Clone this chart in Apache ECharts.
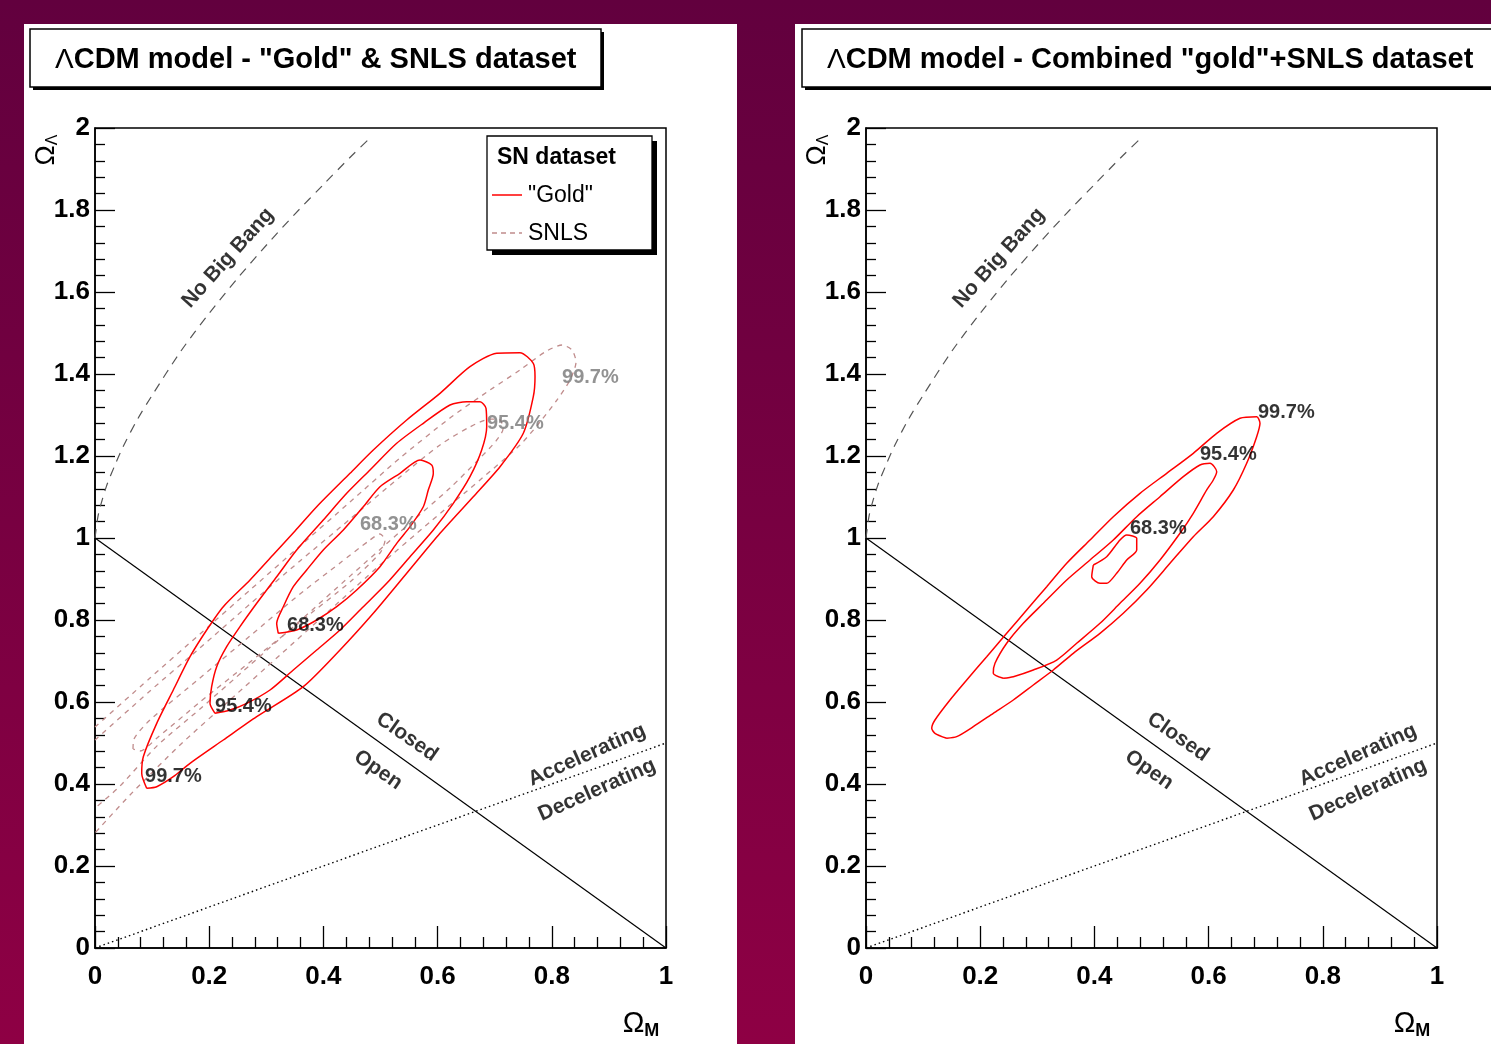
<!DOCTYPE html>
<html><head><meta charset="utf-8">
<script src="https://cdn.jsdelivr.net/npm/echarts@6/dist/echarts.min.js"></script>
<style>html,body{margin:0;padding:0;background:#6a0040;}#c{width:1491px;height:1044px;}</style>
</head><body><div id="c"></div>
<script>
// ---------- data (Omega_M, Omega_Lambda) ----------
const xTicks = [0, 0.2, 0.4, 0.6, 0.8, 1];
const yTicks = [0, 0.2, 0.4, 0.6, 0.8, 1, 1.2, 1.4, 1.6, 1.8, 2];
const legendNames = ['"Gold"', 'SNLS'];
const titles = ['CDM model - "Gold" & SNLS dataset', 'CDM model - Combined "gold"+SNLS dataset'];

const flatLine = [[0, 1], [1, 0]];
const accelLine = [[0, 0], [1, 0.5]];
const noBigBang = [[0, 1.0], [0.005, 1.051], [0.01, 1.080], [0.02, 1.126], [0.035, 1.178], [0.05, 1.225],
  [0.075, 1.291], [0.1, 1.348], [0.15, 1.455], [0.2, 1.548], [0.25, 1.634], [0.3, 1.714],
  [0.35, 1.790], [0.4, 1.862], [0.45, 1.933], [0.485, 1.980]];

const goldOuter = [[0.0905,0.3895],[0.0818,0.4261],[0.0846,0.4666],[0.1081,0.548],[0.1371,0.6293],[0.1664,0.7105],
  [0.1956,0.7756],[0.2247,0.8324],[0.2715,0.8976],[0.3117,0.9585],[0.3503,1.0171],[0.3883,1.0763],[0.4466,1.1578],
  [0.4874,1.2146],[0.5459,1.2878],[0.6042,1.3529],[0.6567,1.4178],[0.7035,1.4505],[0.7443,1.452],[0.7676,1.4261],
  [0.7706,1.3934],[0.7676,1.3446],[0.7501,1.2554],[0.7093,1.1739],[0.6625,1.1007],[0.6042,1.0115],[0.5459,0.9139],
  [0.4874,0.8163],[0.4291,0.7268],[0.3648,0.6373],[0.2832,0.5641],[0.2247,0.5073],[0.1664,0.4505],[0.1371,0.4178],
  [0.1081,0.3934],[0.0905,0.3895]];
const goldMid = [[0.2102,0.5724],[0.2014,0.5968],[0.2043,0.6373],[0.2131,0.6862],[0.2306,0.7349],[0.2539,0.7837],
  [0.2832,0.8407],[0.3182,0.9056],[0.3532,0.9707],[0.3998,1.0439],[0.4408,1.109],[0.4816,1.1659],[0.5284,1.231],
  [0.575,1.2798],[0.6217,1.3244],[0.651,1.3324],[0.6743,1.3324],[0.6848,1.3163],[0.686,1.2715],[0.6772,1.2146],
  [0.6567,1.1495],[0.6275,1.0846],[0.5925,1.0195],[0.5517,0.9544],[0.5109,0.8895],[0.4699,0.8324],[0.4291,0.7756],
  [0.3883,0.7268],[0.3473,0.678],[0.3065,0.6293],[0.2657,0.5968],[0.2364,0.5805],[0.2102,0.5724]];
const goldInner = [[0.321,0.7675],[0.3182,0.7919],[0.3298,0.8324],[0.3473,0.8812],[0.3707,0.922],[0.3998,0.9707],
  [0.4349,1.0195],[0.4699,1.0763],[0.4991,1.1251],[0.5342,1.1578],[0.5692,1.1902],[0.5896,1.178],[0.5925,1.1578],
  [0.5837,1.1171],[0.575,1.0763],[0.5517,1.0276],[0.5284,0.987],[0.4991,0.93],[0.4583,0.8732],[0.4233,0.8324],
  [0.3883,0.8],[0.3532,0.7756],[0.321,0.7675]];

const snlsOuter = [[0,0.539],[0.0963,0.6585],[0.1839,0.7659],[0.2715,0.8732],[0.359,0.9805],[0.4466,1.0878],
  [0.5342,1.1951],[0.6217,1.2927],[0.6918,1.361],[0.7443,1.4098],[0.7881,1.4537],[0.8179,1.4707],[0.8354,1.4585],
  [0.8424,1.4293],[0.8319,1.3854],[0.8091,1.3366],[0.7793,1.2829],[0.7443,1.2268],[0.6743,1.1415],[0.5867,1.039],
  [0.4991,0.9341],[0.4116,0.8244],[0.324,0.7146],[0.2364,0.6049],[0.1489,0.4951],[0.0613,0.3732],[0,0.2805]];
const snlsMid = [[0,0.507],[0.0963,0.627],[0.1839,0.732],[0.2715,0.839],[0.359,0.944],[0.4466,1.046],[0.5342,1.149],
  [0.6042,1.227],[0.6567,1.271],[0.6918,1.290],[0.7093,1.288],[0.7145,1.266],[0.7023,1.237],[0.6743,1.195],
  [0.6217,1.122],[0.5342,1.015],[0.4466,0.907],[0.359,0.798],[0.2715,0.690],[0.1839,0.583],[0.1086,0.493],
  [0.0438,0.395],[0,0.341]];
const snlsInner = [[0.0666,0.4854],[0.0683,0.5098],[0.0963,0.5561],[0.1839,0.6585],[0.2715,0.7610],[0.359,0.8634],
  [0.4291,0.9390],[0.4816,0.9951],[0.4991,1.0098],[0.5079,0.9951],[0.4991,0.9634],[0.4466,0.8927],[0.359,0.7951],
  [0.2715,0.6976],[0.1839,0.6000],[0.1086,0.5122],[0.0788,0.4805],[0.0666,0.4854]];

const combOuter = [[0.1413,0.5115],[0.1208,0.5237],[0.1151,0.5359],[0.1208,0.5561],[0.1471,0.6049],[0.1764,0.6537],
  [0.2114,0.7105],[0.2464,0.7675],[0.2814,0.8244],[0.3165,0.8812],[0.3515,0.9383],[0.3923,0.9951],[0.4331,1.052],
  [0.4799,1.109],[0.5266,1.1578],[0.5732,1.2066],[0.6142,1.2554],[0.655,1.292],[0.6842,1.2959],[0.69,1.2798],
  [0.6842,1.2471],[0.6667,1.1822],[0.6433,1.1171],[0.6082,1.052],[0.5732,1.0032],[0.5324,0.9383],[0.4916,0.8732],
  [0.4506,0.8163],[0.4098,0.7675],[0.363,0.7188],[0.328,0.678],[0.293,0.6415],[0.258,0.6049],[0.2229,0.5724],
  [0.1879,0.5398],[0.1588,0.5154],[0.1413,0.5115]];
const combMid = [[0.2405,0.6578],[0.2229,0.67],[0.2259,0.6944],[0.2464,0.7432],[0.2755,0.7919],[0.3105,0.8407],
  [0.3515,0.8976],[0.3923,0.9463],[0.4331,0.9951],[0.4741,1.052],[0.5149,1.1007],[0.5557,1.1495],[0.5849,1.178],
  [0.6025,1.1822],[0.6142,1.1617],[0.6082,1.1415],[0.5967,1.1171],[0.5732,1.0602],[0.5499,1.0115],[0.5149,0.9463],
  [0.4799,0.8895],[0.4448,0.8407],[0.4098,0.7919],[0.369,0.7432],[0.334,0.7024],[0.293,0.678],[0.258,0.6617],
  [0.2405,0.6578]];
const combInner = [[0.3981,0.9341],[0.3953,0.9056],[0.4098,0.8895],[0.4215,0.8895],[0.439,0.9139],[0.4566,0.9463],
  [0.4741,0.9707],[0.4741,0.9993],[0.4566,1.0073],[0.4448,0.9951],[0.4215,0.9544],[0.3981,0.9341]];

const goldLabels = [[0.3363,0.7878,'68.3%'],[0.2102,0.5902,'95.4%'],[0.0876,0.4195,'99.7%']];
const snlsLabels = [[0.4641,1.0341,'68.3%'],[0.6865,1.2805,'95.4%'],[0.8179,1.3927,'99.7%']];
const combLabels = [[0.4623,1.0244,'68.3%'],[0.5849,1.2049,'95.4%'],[0.6865,1.3073,'99.7%']];
const regionNotes = [[0.2329,1.6829,'No Big Bang',48],[0.5464,0.5146,'Closed',-35],[0.4956,0.4341,'Open',-35],
  [0.8616,0.4707,'Accelerating',24],[0.8792,0.3854,'Decelerating',24]];

// ---------- styles ----------
const FONT = 'Liberation Sans, Arial, Helvetica, sans-serif';
const RED = '#ff0000', SNLSC = '#c08c8c';

function axisX(i) {
  return { gridIndex: i, type: 'value', min: 0, max: 1, interval: 0.2,
    axisLine: { onZero: false, lineStyle: { color: '#000', width: 1.5 } },
    axisTick: { inside: true, length: 22, lineStyle: { color: '#000', width: 1.3 } },
    minorTick: { show: true, splitNumber: 5, length: 11, lineStyle: { color: '#000', width: 1.3 } },
    axisLabel: { margin: 16, color: '#000', fontFamily: FONT, fontWeight: 'bold', fontSize: 26,
      formatter: v => String(xTicks.find(t => Math.abs(t - v) < 1e-9) ?? v) },
    splitLine: { show: false } };
}
function axisY(i) {
  return { gridIndex: i, type: 'value', min: 0, max: 2, interval: 0.2,
    axisLine: { onZero: false, lineStyle: { color: '#000', width: 1.5 } },
    axisTick: { inside: true, length: 20, lineStyle: { color: '#000', width: 1.3 } },
    minorTick: { show: true, splitNumber: 5, length: 10, lineStyle: { color: '#000', width: 1.3 } },
    axisLabel: { margin: 5, color: '#000', fontFamily: FONT, fontWeight: 'bold', fontSize: 26,
      formatter: v => String(yTicks.find(t => Math.abs(t - v) < 1e-9) ?? v) },
    splitLine: { show: false } };
}
function line(i, data, color, type, width, z, smooth) {
  return { type: 'line', xAxisIndex: i, yAxisIndex: i, data: data, showSymbol: false, symbol: 'none',
    silent: true, animation: false, z: z || 3, smooth: smooth || false,
    lineStyle: { color: color, type: type, width: width } };
}
function labels(i, arr, color, pos) {
  return { type: 'scatter', xAxisIndex: i, yAxisIndex: i, symbolSize: 0, silent: true, animation: false, z: 6,
    data: arr.map(a => ({ value: [a[0], a[1]], name: a[2] })),
    label: { show: true, position: pos, distance: 0, formatter: p => p.name, color: color,
      fontFamily: FONT, fontWeight: 'bold', fontSize: 20 } };
}
function notes(i) {
  return { type: 'scatter', xAxisIndex: i, yAxisIndex: i, symbolSize: 0, silent: true, animation: false, z: 6,
    data: regionNotes.map(a => ({ value: [a[0], a[1]], name: a[2], label: { rotate: a[3] } })),
    label: { show: true, position: 'inside', formatter: p => p.name, color: '#000',
      fontFamily: FONT, fontWeight: 'bold', fontSize: 21 } };
}
function commonLines(i) {
  return [
    line(i, flatLine, '#000', 'solid', 1.2, 2),
    line(i, accelLine, '#000', [1.5, 3], 1.4, 2),
    line(i, noBigBang, '#555', [9, 7], 1.2, 2, 0.3),
    notes(i)
  ];
}
const SM = 0.25;
const series = [].concat(
  commonLines(0),
  [line(0, snlsOuter, SNLSC, [5, 5], 1.3, 3, SM), line(0, snlsMid, SNLSC, [5, 5], 1.3, 3, SM), line(0, snlsInner, SNLSC, [5, 5], 1.3, 3, SM),
   line(0, goldOuter, RED, 'solid', 1.5, 4, SM), line(0, goldMid, RED, 'solid', 1.5, 4, SM), line(0, goldInner, RED, 'solid', 1.5, 4, SM),
   labels(0, goldLabels, '#000', 'right'), labels(0, snlsLabels, '#777', 'right')],
  commonLines(1),
  [line(1, combOuter, RED, 'solid', 1.5, 4, SM), line(1, combMid, RED, 'solid', 1.5, 4, SM), line(1, combInner, RED, 'solid', 1.5, 4, SM),
   labels(1, combLabels, '#000', 'right')]
);

function titleBox(x, w, text) {
  return [
    { type: 'rect', shape: { x: x + 3, y: 32, width: w, height: 58 }, style: { fill: '#000' }, z: 1 },
    { type: 'rect', shape: { x: x, y: 29, width: w, height: 58 }, style: { fill: '#fff', stroke: '#000', lineWidth: 1.5 }, z: 2 },
    { type: 'text', x: x + 25, y: 60, z: 3, style: {
      rich: { l: { font: '28px ' + FONT, fill: '#000' }, t: { font: 'bold 29px ' + FONT, fill: '#000' } },
      text: '{l|Λ}{t|' + text + '}', verticalAlign: 'middle' } }
  ];
}
function omegaL(x) {
  return { type: 'text', x: x, y: 150, rotation: Math.PI / 2, z: 12,
    style: { rich: { a: { font: '27px ' + FONT, fill: '#000' }, b: { font: '16px ' + FONT, fill: '#000', padding: [12, 0, 0, 0] } },
      text: '{a|Ω}{b|Λ}', align: 'center', verticalAlign: 'middle' } };
}
function omegaM(x) {
  return { type: 'text', x: x, y: 1024, z: 12,
    style: { rich: { a: { font: '29px ' + FONT, fill: '#000' }, b: { font: 'bold 18px ' + FONT, fill: '#000', padding: [14, 0, 0, 0] } },
      text: '{a|Ω}{b|M}', align: 'center', verticalAlign: 'middle' } };
}

const graphic = [
  { type: 'rect', shape: { x: 24, y: 24, width: 713, height: 1030 }, style: { fill: '#fff' }, z: -10 },
  { type: 'rect', shape: { x: 795, y: 24, width: 700, height: 1030 }, style: { fill: '#fff' }, z: -10 }
].concat(titleBox(30, 571, titles[0]), titleBox(802, 700, titles[1]), [
  { type: 'rect', shape: { x: 492, y: 141, width: 165, height: 114 }, style: { fill: '#000' }, z: 10 },
  { type: 'rect', shape: { x: 487, y: 136, width: 165, height: 114 }, style: { fill: '#fff', stroke: '#000', lineWidth: 1.3 }, z: 11 },
  { type: 'text', x: 497, y: 158, z: 12, style: { text: 'SN dataset', fill: '#000', font: 'bold 23px ' + FONT, verticalAlign: 'middle' } },
  { type: 'line', shape: { x1: 492, y1: 195, x2: 522, y2: 195 }, style: { stroke: RED, lineWidth: 1.5 }, z: 12 },
  { type: 'text', x: 528, y: 196, z: 12, style: { text: legendNames[0], fill: '#000', font: '23px ' + FONT, verticalAlign: 'middle' } },
  { type: 'line', shape: { x1: 492, y1: 233, x2: 522, y2: 233 }, style: { stroke: SNLSC, lineWidth: 1.3, lineDash: [5, 4] }, z: 12 },
  { type: 'text', x: 528, y: 234, z: 12, style: { text: legendNames[1], fill: '#000', font: '23px ' + FONT, verticalAlign: 'middle' } },
  omegaL(47), omegaL(818), omegaM(641), omegaM(1412)
]);

const chart = echarts.init(document.getElementById('c'), null, { renderer: 'canvas' });
chart.setOption({
  animation: false,
  backgroundColor: { type: 'linear', x: 0, y: 0, x2: 0, y2: 1, colorStops: [{ offset: 0, color: '#62003e' }, { offset: 1, color: '#8e0044' }] },
  grid: [
    { left: 95, top: 128, width: 571, height: 820, show: true, borderColor: '#000', borderWidth: 1.5, backgroundColor: 'rgba(0,0,0,0)' },
    { left: 866, top: 128, width: 571, height: 820, show: true, borderColor: '#000', borderWidth: 1.5, backgroundColor: 'rgba(0,0,0,0)' }
  ],
  xAxis: [axisX(0), axisX(1)],
  yAxis: [axisY(0), axisY(1)],
  series: series,
  graphic: graphic
});
</script></body></html>
